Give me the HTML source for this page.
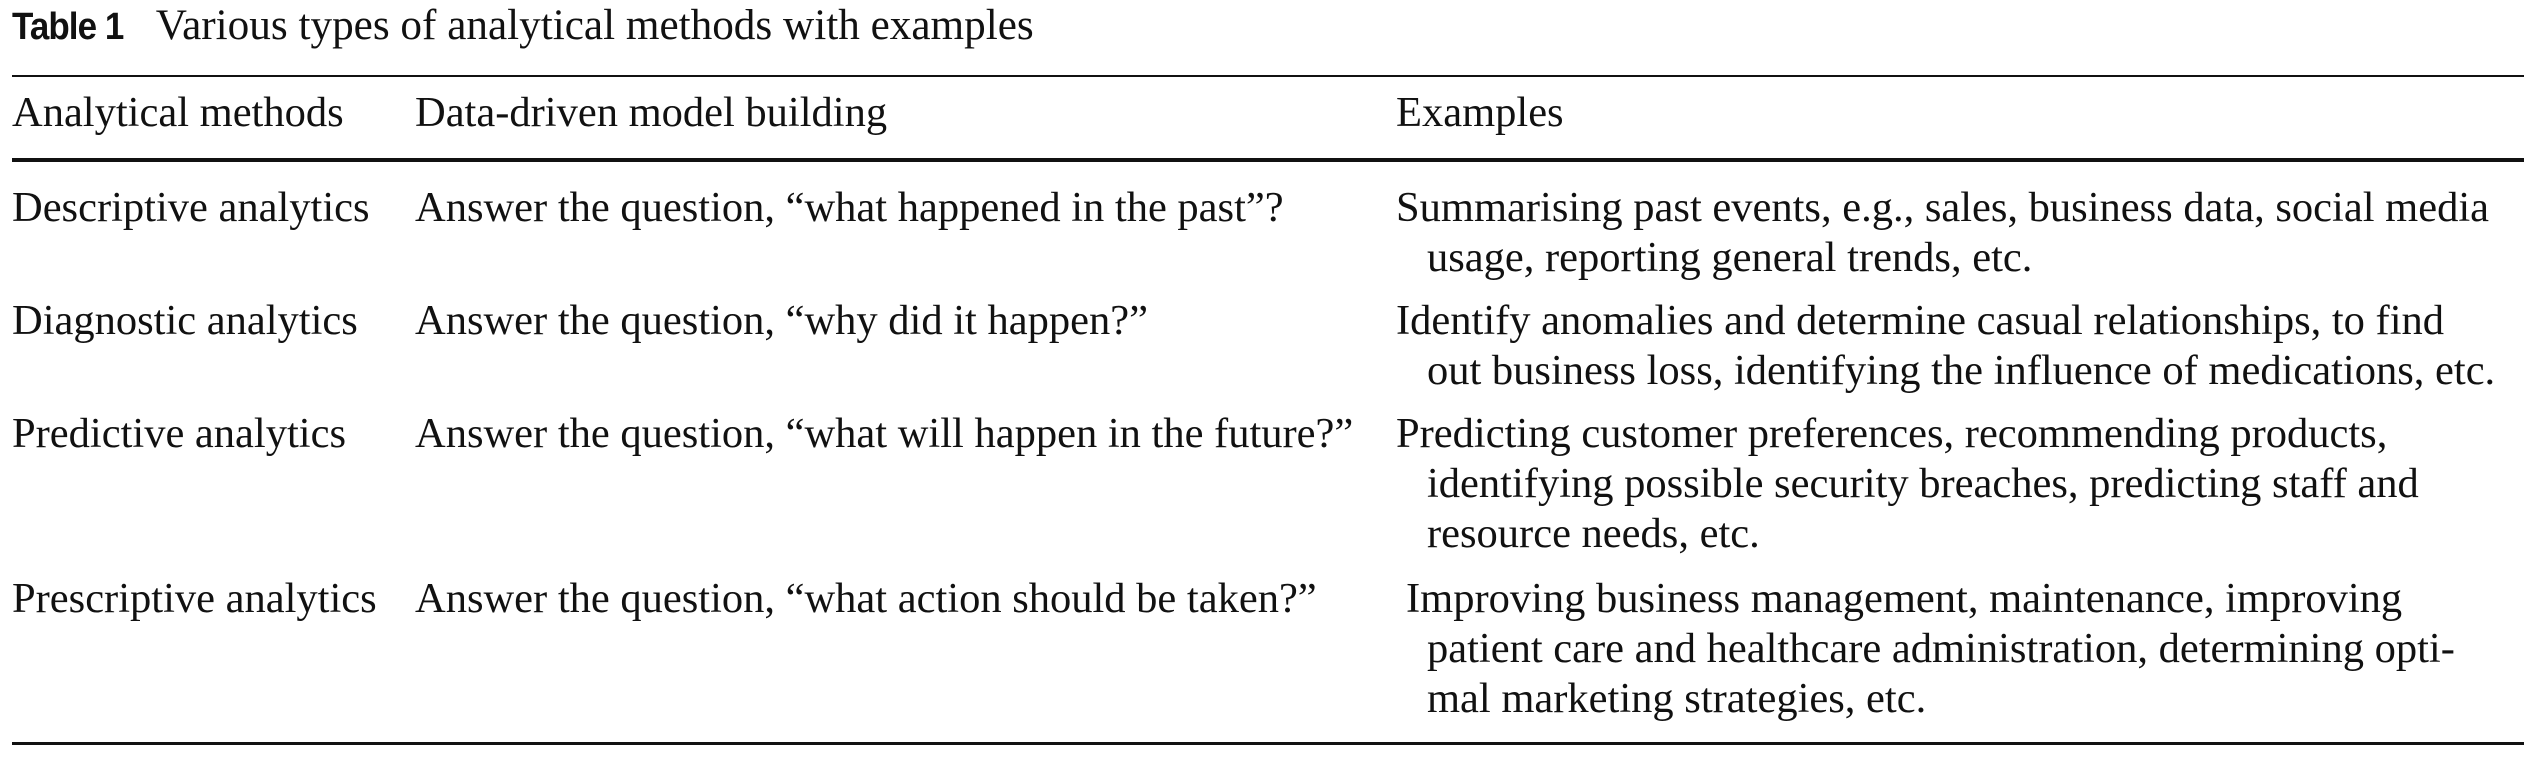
<!DOCTYPE html>
<html><head><meta charset="utf-8"><style>
html,body{margin:0;padding:0;background:#fff;}
body{width:2547px;height:767px;position:relative;overflow:hidden;font-family:"Liberation Serif",serif;color:#111;}
.t{position:absolute;white-space:nowrap;font-size:42.5px;line-height:50px;}
.r{position:absolute;left:12px;width:2512px;background:#111;}
.b{display:inline-block;font-family:"Liberation Sans",sans-serif;font-weight:bold;font-size:38px;letter-spacing:-1px;transform:scaleX(0.92);transform-origin:left bottom;margin-right:-9px;}
</style></head><body>
<div class="t" style="left:12px;top:1px;font-size:43.2px;"><span class="b">Table 1</span>&nbsp;&nbsp; Various types of analytical methods with examples</div>
<div class="r" style="top:75px;height:2px;"></div>
<div class="r" style="top:158px;height:4px;"></div>
<div class="r" style="top:742px;height:3px;"></div>

<div class="t" style="left:12px;top:88px;">Analytical methods</div>
<div class="t" style="left:415px;top:88px;">Data-driven model building</div>
<div class="t" style="left:1396px;top:88px;">Examples</div>

<div class="t" style="left:12px;top:183px;">Descriptive analytics</div>
<div class="t" style="left:415px;top:183px;">Answer the question, “what happened in the past”?</div>
<div class="t" style="left:1396px;top:183px;">Summarising past events, e.g., sales, business data, social media</div>
<div class="t" style="left:1427px;top:233px;">usage, reporting general trends, etc.</div>

<div class="t" style="left:12px;top:296px;">Diagnostic analytics</div>
<div class="t" style="left:415px;top:296px;">Answer the question, “why did it happen?”</div>
<div class="t" style="left:1396px;top:296px;">Identify anomalies and determine casual relationships, to find</div>
<div class="t" style="left:1427px;top:346px;">out business loss, identifying the influence of medications, etc.</div>

<div class="t" style="left:12px;top:409px;">Predictive analytics</div>
<div class="t" style="left:415px;top:409px;">Answer the question, “what will happen in the future?”</div>
<div class="t" style="left:1396px;top:409px;">Predicting customer preferences, recommending products,</div>
<div class="t" style="left:1427px;top:459px;">identifying possible security breaches, predicting staff and</div>
<div class="t" style="left:1427px;top:509px;">resource needs, etc.</div>

<div class="t" style="left:12px;top:574px;">Prescriptive analytics</div>
<div class="t" style="left:415px;top:574px;">Answer the question, “what action should be taken?”</div>
<div class="t" style="left:1406px;top:574px;">Improving business management, maintenance, improving</div>
<div class="t" style="left:1427px;top:624px;">patient care and healthcare administration, determining opti-</div>
<div class="t" style="left:1427px;top:674px;">mal marketing strategies, etc.</div>
</body></html>
